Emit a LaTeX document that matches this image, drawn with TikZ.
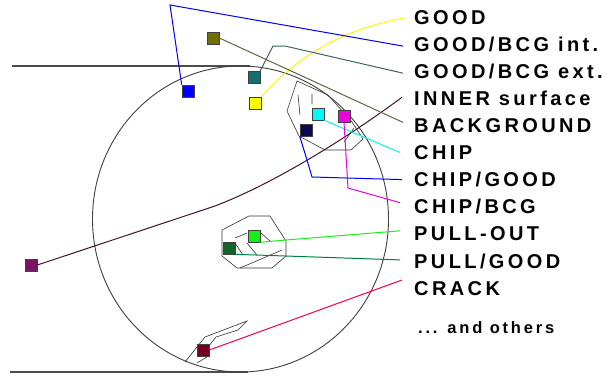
\documentclass[tikz,border=0pt]{standalone}
\usepackage{fontspec}
\setmainfont{Liberation Sans}
\newfontfamily\lblfont[LetterSpace=17]{Liberation Sans}
\usetikzlibrary{positioning,calc}

\definecolor{colive}{RGB}{112,112,0}
\definecolor{cblue}{RGB}{0,0,255}
\definecolor{cteal}{RGB}{20,112,112}
\definecolor{cyel}{RGB}{250,250,0}
\definecolor{cnavy}{RGB}{10,10,80}
\definecolor{ccyan}{RGB}{0,250,250}
\definecolor{cmag}{RGB}{240,0,220}
\definecolor{cpurp}{RGB}{120,20,100}
\definecolor{cgreen}{RGB}{20,240,20}
\definecolor{cdkgreen}{RGB}{20,100,40}
\definecolor{cmaroon}{RGB}{115,0,30}
\definecolor{ctealln}{RGB}{60,100,100}
\definecolor{coliveln}{RGB}{100,100,70}
\definecolor{cinner}{RGB}{60,20,50}
\definecolor{cdkgreenln}{RGB}{0,128,64}
\definecolor{cred}{RGB}{255,0,64}

\tikzset{
  sq/.style={draw=black!75, line width=0.6pt, minimum size=12pt, inner sep=0pt},
  lbl/.style={inner sep=0pt, text height=14.3pt, text depth=0pt,
    font=\lblfont\bfseries\fontsize{20}{24}\selectfont},
  outl/.style={black!80, line width=0.6pt},
  wire/.style={line width=1pt},
}

\begin{document}
\begin{tikzpicture}[x=1pt,y=-1pt]
      \useasboundingbox (0,0) rectangle (607,380);
      \fill[white] (0,0) rectangle (607,380);

      \draw[black!70, line width=1.2pt] (12,66) -- (250,66);
      \draw[black!70, line width=1.2pt] (10,372) -- (248,372);
      \draw[black!75, line width=0.9pt] (240.5,219) ellipse (148 and 153);

      % regions
      \draw[outl] (297,81) -- (287,111) -- (299,136) -- (325,150) -- (351,150)
         -- (363,139) -- (352,122) -- (328,95) -- cycle;
      \draw[outl] (298,95) -- (300,115) (312,94) -- (312,104) (354,128) -- (344,142);
      \draw[outl] (249,216) -- (270,216) -- (286,241) -- (286,256) -- (272,268)
         -- (237,268) -- (222,256) -- (222,230) -- cycle;
      \draw[outl] (235,238) -- (247,233) (260,232) -- (271,242) (235,243) -- (243,255)
         (247,243) -- (257,255) (240,268) -- (282,250);
      \draw[outl] (185,362) -- (205,337) -- (247,321) -- (238,330) -- (216,337)
         -- (200,357) (197,363) -- (210,355);

      \node[sq, fill=colive] (s1) at (213,38) {};
      \node[sq, fill=cblue] (s2) at (188,91) {};
      \node[sq, fill=cteal] (s3) at (254,77) {};
      \node[sq, fill=cyel] (s4) at (255,103) {};
      \node[sq, fill=cnavy] (s5) at (306,130) {};
      \node[sq, fill=ccyan] (s6) at (318,114) {};
      \node[sq, fill=cmag] (s7) at (344,116) {};
      \node[sq, fill=cpurp] (s8) at (31,265) {};
      \node[sq, fill=cgreen] (s9) at (254,236) {};
      \node[sq, fill=cdkgreen] (s10) at (229,248) {};
      \node[sq, fill=cmaroon] (s11) at (203,350) {};

      \node[lbl, anchor=west] (t1) at (414,17) {GOOD};
      \node[lbl, below right=12.4pt and 0pt of t1.south west] (t2) {GOOD/BCG int.};
      \node[lbl, below right=12.4pt and 0pt of t2.south west] (t3) {GOOD/BCG ext.};
      \node[lbl, below right=12.4pt and 0pt of t3.south west] (t4) {INNER surface};
      \node[lbl, below right=12.4pt and 0pt of t4.south west] (t5) {BACKGROUND};
      \node[lbl, below right=12.4pt and 0pt of t5.south west] (t6) {CHIP};
      \node[lbl, below right=12.4pt and 0pt of t6.south west] (t7) {CHIP/GOOD};
      \node[lbl, below right=12.4pt and 0pt of t7.south west] (t8) {CHIP/BCG};
      \node[lbl, below right=12.4pt and 0pt of t8.south west] (t9) {PULL-OUT};
      \node[lbl, below right=12.4pt and 0pt of t9.south west] (t10) {PULL/GOOD};
      \node[lbl, below right=12.4pt and 0pt of t10.south west] (t11) {CRACK};
      \node[inner sep=0pt, anchor=base west, font=\lblfont\bfseries\fontsize{16.5}{20}\selectfont]
         (t12) at (418,333) {... and others};

      \draw[wire, cyel] (s4.north east) .. controls (290,65) and (330,32) .. ($(t1.west)+(-10,1)$);
      \draw[wire, cblue] (s2.north west) -- (170,5) -- ($(t2.west)+(-11,2)$);
      \draw[wire, ctealln] (s3.north east) -- (273,46) -- (285,46) -- ($(t3.west)+(-11,2)$);
      \draw[wire, cinner] (s8.east) -- (215,206) .. controls (270,185) and (340,143) .. ($(t4.west)+(-12,-1)$);
      \draw[wire, coliveln] (s1.east) -- ($(t5.west)+(-11,-3)$);
      \draw[wire, ccyan] (s6.south east) -- ($(t6.west)+(-14,0)$);
      \draw[wire, cblue] (s5.south west) -- (307,160) -- (312,177) -- ($(t7.west)+(-12,0)$);
      \draw[wire, cmag] (s7.south) -- (348,188) -- ($(t8.west)+(-14,-4)$);
      \draw[wire, cgreen] (s9.south east) -- (286,240) -- ($(t9.west)+(-14,-3)$);
      \draw[wire, cdkgreenln] (s10.south east) -- ($(t10.west)+(-14,-1)$);
      \draw[wire, cred] (s11.east) -- ($(t11.west)+(-12,-8)$);
\end{tikzpicture}
\end{document}
